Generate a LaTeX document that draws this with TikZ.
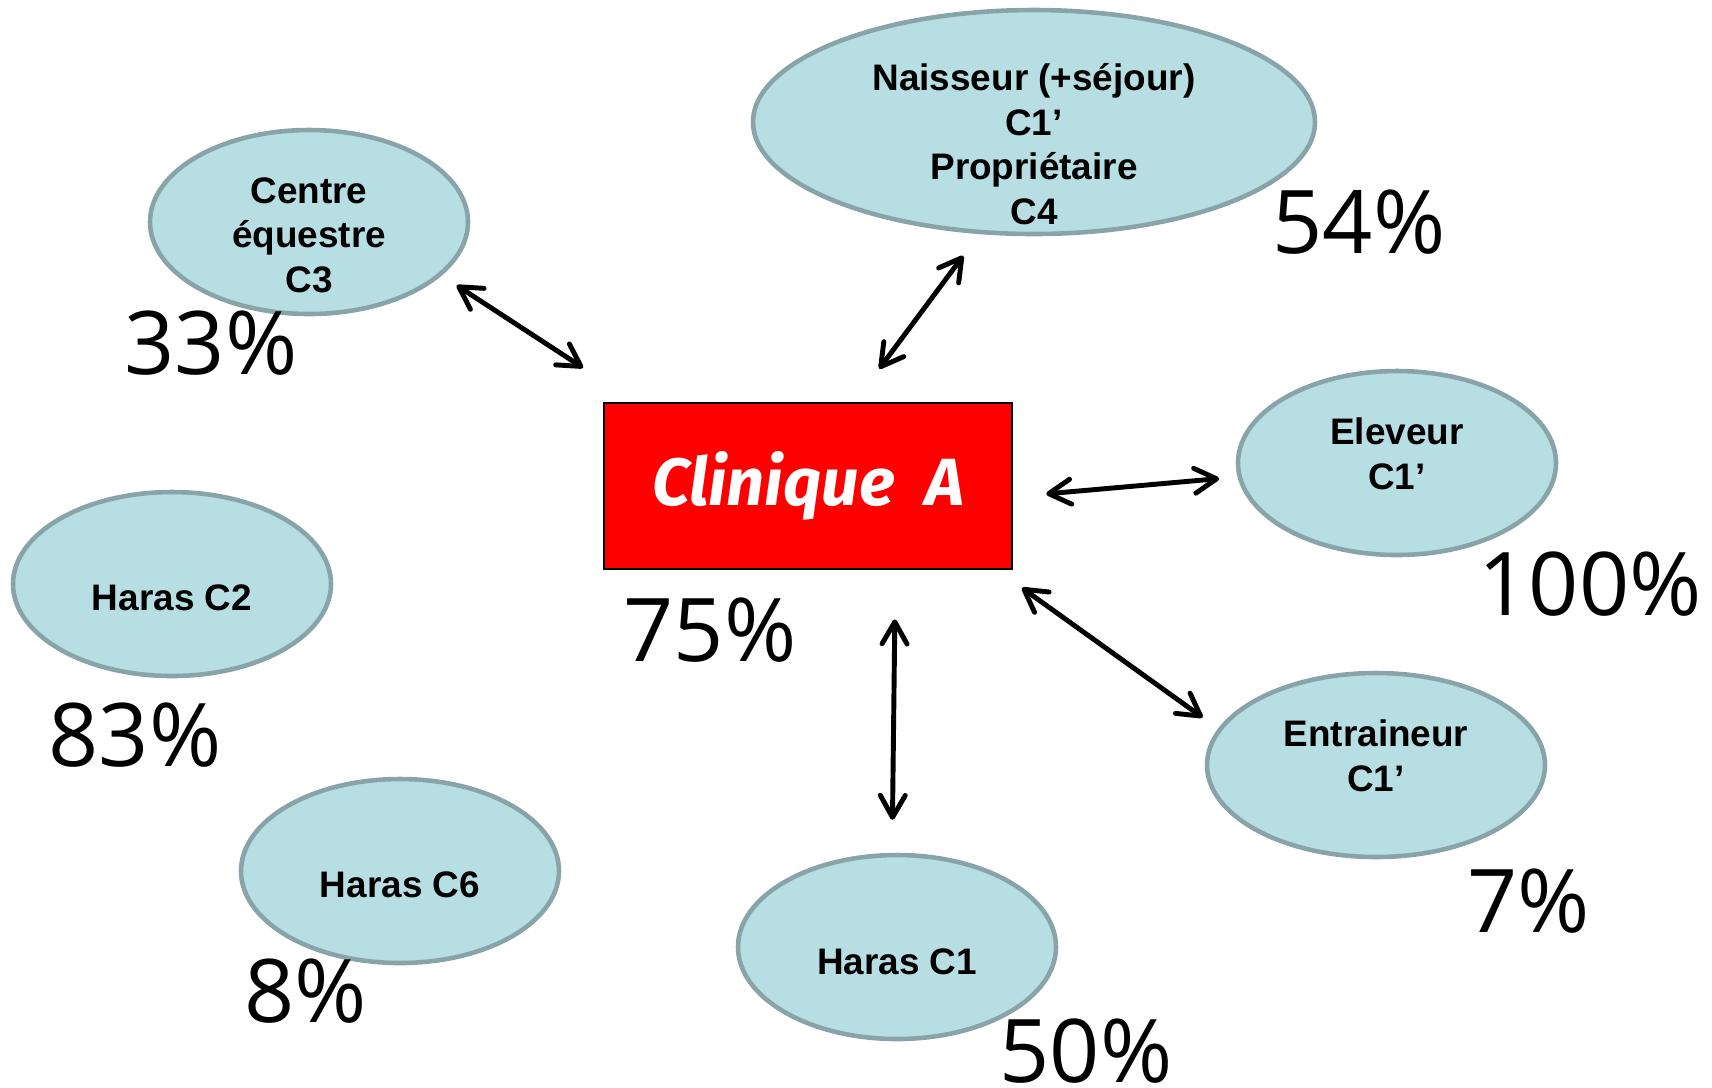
\documentclass[tikz,border=0pt]{standalone}
\usepackage{fontspec}
\usepackage{xcolor}
\usepackage{tikz}
\usetikzlibrary{shapes.geometric, arrows.meta}
\setmainfont{Liberation Sans}
\newfontfamily\pctfont{Open Sans}
\newfontfamily\clinfont{Fira Sans}
\definecolor{sitefill}{RGB}{183,222,226}
\definecolor{siteline}{RGB}{136,164,168}
\tikzstyle{site} = [ellipse, draw=siteline, fill=sitefill, line width=1.3pt, inner sep=0pt, minimum width=3.18cm, minimum height=1.84cm]
\tikzstyle{sitetext} = [align=center, inner sep=0pt, font=\fontsize{10.5}{12.7}\selectfont\bfseries]
\tikzstyle{clinic} = [rectangle, draw=black, fill=red, line width=0.8pt, minimum width=4.08cm, minimum height=1.66cm, text=white, font=\clinfont\fontsize{19}{22}\selectfont\bfseries\itshape]
\tikzstyle{pct} = [font=\pctfont\fontsize{25}{30}\selectfont, inner sep=0pt]
\tikzstyle{arrow} = [line width=1.4pt, line cap=round, <->, >={Straight Barb[length=2.2mm, width=2.5mm, round]}]

\begin{document}
\begin{tikzpicture}
   \useasboundingbox (0,0) rectangle (17.12,-10.87);
   \node (clin) [clinic] at (8.08,-4.86) {Clinique\ \ A};
   \node (c3) [site, label={[sitetext, yshift=-1.3mm]center:{Centre\\équestre\\C3}}] at (3.09,-2.22) {};
   \node (nai) [site, minimum width=5.62cm, minimum height=2.24cm, label={[sitetext, yshift=-2.2mm]center:{Naisseur (+séjour)\\C1’\\Propriétaire\\C4}}] at (10.34,-1.22) {};
   \node (ele) [site, label={[sitetext, yshift=0.9mm]center:{Eleveur\\C1’}}] at (13.97,-4.63) {};
   \node (ent) [site, minimum width=3.38cm, label={[sitetext, yshift=0.9mm]center:{Entraineur\\C1’}}] at (13.76,-7.65) {};
   \node (h1) [site, label={[sitetext, yshift=-1.5mm]center:Haras C1}] at (8.97,-9.47) {};
   \node (h6) [site, label={[sitetext, yshift=-1.4mm]center:Haras C6}] at (4.00,-8.71) {};
   \node (h2) [site, label={[sitetext, yshift=-1.4mm]center:Haras C2}] at (1.72,-5.84) {};
   % pourcentages
   \node (p75) [pct] at (7.10,-6.30) {75\%};
   \node (p33) [pct] at (2.11,-3.43) {33\%};
   \node (p54) [pct] at (13.59,-2.22) {54\%};
   \node (p100) [pct] at (15.90,-5.84) {100\%};
   \node (p7) [pct] at (15.29,-9.01) {7\%};
   \node (p50) [pct] at (10.86,-10.51) {50\%};
   \node (p8) [pct] at (3.06,-9.91) {8\%};
   \node (p83) [pct] at (1.35,-7.35) {83\%};
   \draw [arrow, shorten <=1.8mm, shorten >=6.2mm] (c3.-22) -- (clin.154);
   \draw [arrow, shorten <=2.7mm, shorten >=4.1mm] (nai.-116) -- (clin.61);
   \draw [arrow, shorten <=3.3mm, shorten >=1.85mm] (clin.-3) -- (ele.-175);
   \draw [arrow, shorten <=3mm, shorten >=1.9mm] (clin.-24.5) -- (ent.167);
   \draw [arrow, shorten <=4.9mm, shorten >=3.3mm] (clin.-44.7) -- (h1.93);
\end{tikzpicture}
\end{document}
